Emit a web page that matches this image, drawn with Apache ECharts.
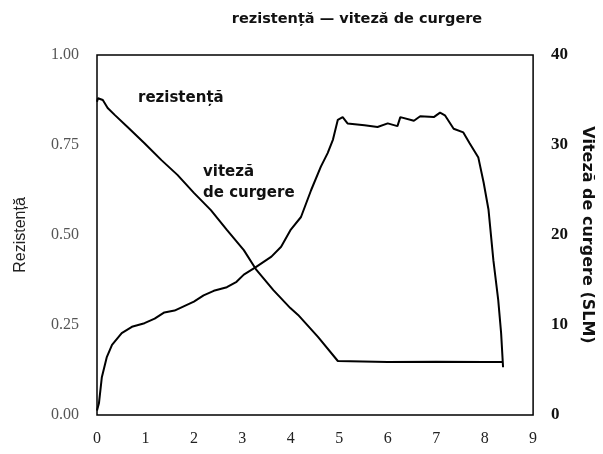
<!DOCTYPE html>
<html>
<head>
<meta charset="utf-8">
<script src="https://cdn.jsdelivr.net/npm/echarts@6/dist/echarts.min.js"></script>
<style>
  html, body { margin: 0; padding: 0; background: #fff; }
  #chart { width: 603px; height: 454px; }
</style>
</head>
<body>
<div id="chart"></div>
<script>
// Resistance (left axis, 0–1) against time
const resistanceX = [0, 0.02, 0.12, 0.22, 0.37, 0.63, 0.98, 1.33, 1.66, 2.0, 2.35, 2.68, 3.03, 3.29, 3.64, 3.99, 4.15, 4.56, 4.97, 5.0, 6.0, 7.0, 8.0, 8.36];
const resistanceY = [0.87, 0.88, 0.875, 0.853, 0.833, 0.8, 0.755, 0.708, 0.667, 0.617, 0.569, 0.514, 0.458, 0.403, 0.347, 0.297, 0.278, 0.217, 0.15, 0.147, 0.147, 0.148, 0.147, 0.147];

// Flow rate in SLM (right axis, 0–40)
const flowX = [0, 0.04, 0.10, 0.2, 0.31, 0.51, 0.72, 0.98, 1.19, 1.39, 1.6, 1.8, 2.0, 2.2, 2.41, 2.68, 2.88, 3.03, 3.27, 3.6, 3.8, 4.0, 4.21, 4.42, 4.62, 4.76, 4.87, 4.97, 5.07, 5.17, 5.52, 5.79, 6.0, 6.2, 6.26, 6.54, 6.67, 6.95, 7.08, 7.18, 7.36, 7.56, 7.69, 7.87, 7.98, 8.08, 8.18, 8.28, 8.34, 8.38];
const flowY = [0.5, 1.3, 4.2, 6.4, 7.8, 9.1, 9.8, 10.2, 10.7, 11.4, 11.6, 12.1, 12.6, 13.3, 13.8, 14.2, 14.8, 15.6, 16.4, 17.6, 18.7, 20.6, 22.0, 25.0, 27.6, 29.1, 30.6, 32.8, 33.1, 32.4, 32.2, 32.0, 32.4, 32.1, 33.1, 32.7, 33.2, 33.1, 33.6, 33.3, 31.8, 31.4, 30.2, 28.6, 25.8, 22.8, 17.2, 12.8, 9.1, 5.3];

const titleText = 'rezistență — viteză de curgere';

const zip = (xs, ys) => xs.map((x, i) => [x, ys[i]]);

const chart = echarts.init(document.getElementById('chart'), null, { renderer: 'canvas' });
const serif = 'Liberation Serif';

chart.setOption({
  animation: false,
  backgroundColor: '#fff',
  title: {
    text: titleText,
    left: 352, top: 7, textAlign: 'center',
    textStyle: { fontFamily: 'DejaVu Sans', fontWeight: 'bold', fontSize: 14.5, color: '#111' }
  },
  grid: {
    left: 97, right: 66, top: 55, bottom: 39,
    show: true, borderColor: '#000', borderWidth: 1.5, backgroundColor: '#fff'
  },
  xAxis: {
    type: 'value', min: 0, max: 9, interval: 1,
    axisLine: { show: false }, axisTick: { show: false }, splitLine: { show: false },
    axisLabel: { margin: 16, fontFamily: serif, fontSize: 16, color: '#222' }
  },
  yAxis: [
    {
      type: 'value', min: 0, max: 1, interval: 0.25, position: 'left',
      name: 'Rezistență', nameLocation: 'middle', nameGap: 68, nameRotate: 90,
      nameTextStyle: { fontFamily: 'Liberation Sans', fontSize: 16, color: '#222' },
      axisLine: { show: false }, axisTick: { show: false }, splitLine: { show: false },
      axisLabel: { margin: 18, formatter: v => v.toFixed(2), fontFamily: serif, fontSize: 16, color: '#555' }
    },
    {
      type: 'value', min: 0, max: 40, interval: 10, position: 'right',
      name: 'Viteză de curgere (SLM)', nameLocation: 'middle', nameGap: 44, nameRotate: -90,
      nameTextStyle: { fontFamily: 'DejaVu Sans', fontWeight: 'bold', fontSize: 16, color: '#111' },
      axisLine: { show: false }, axisTick: { show: false }, splitLine: { show: false },
      axisLabel: { margin: 18, fontFamily: serif, fontSize: 17, fontWeight: 'bold', color: '#111' }
    }
  ],
  series: [
    {
      name: 'rezistență', type: 'line', yAxisIndex: 0, showSymbol: false,
      data: zip(resistanceX, resistanceY),
      lineStyle: { color: '#000', width: 2 }
    },
    {
      name: 'viteză de curgere', type: 'line', yAxisIndex: 1, showSymbol: false,
      data: zip(flowX, flowY),
      lineStyle: { color: '#000', width: 2 }
    }
  ],
  graphic: [
    { type: 'text', left: 138, top: 91,
      style: { text: 'rezistență', fontFamily: 'DejaVu Sans', fontWeight: 'bold', fontSize: 15, fill: '#111' } },
    { type: 'text', left: 203, top: 162,
      style: { text: 'viteză\nde curgere', lineHeight: 21, fontFamily: 'DejaVu Sans', fontWeight: 'bold', fontSize: 15, fill: '#111' } }
  ]
});
</script>
</body>
</html>
